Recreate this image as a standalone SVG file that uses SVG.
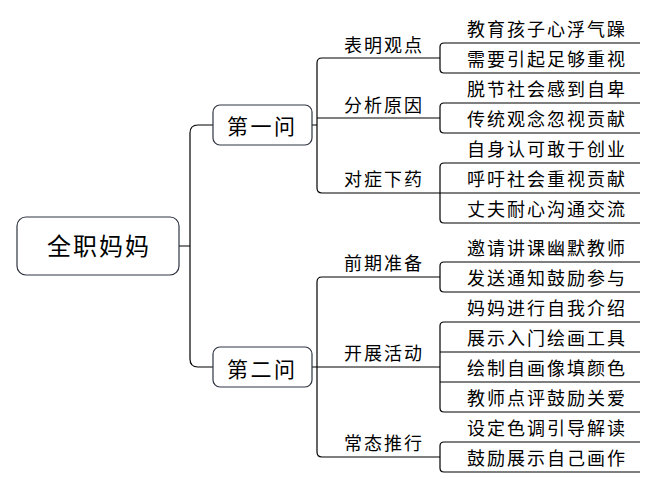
<svg xmlns="http://www.w3.org/2000/svg" width="655" height="488" viewBox="0 0 655 488">
<style>
.bx{fill:#fff;stroke:#2e3440;stroke-width:1.2}
.ln{fill:none;stroke:#000;stroke-width:1.2}
text{font-family:"Noto Sans CJK SC","Liberation Sans",sans-serif;fill:#000}
.root{font-size:24px;letter-spacing:2px}
.l1{font-size:21px;letter-spacing:2.5px}
.l2{font-size:18px;letter-spacing:2px}
.lf{font-size:18px;letter-spacing:2px}
</style>
<rect width="655" height="488" fill="#fff"/>
<g id="connectors">
<path class="ln" d="M179 246 H190 M213 125 H198 Q190 125 190 133 V359 Q190 367 198 367 H213"/>
<path class="ln" d="M312 125 H317 M440 58 H322 Q317 58 317 63 V188 Q317 193 322 193 H440 M317 118 H440"/>
<path class="ln" d="M312 367 H317 M440 277 H322 Q317 277 317 282 V452 Q317 457 322 457 H440 M317 367 H440"/>
<path class="ln" d="M640 43 H444 Q440 43 440 47 V69 Q440 73 444 73 H640"/>
<path class="ln" d="M640 103 H444 Q440 103 440 107 V129 Q440 133 444 133 H640"/>
<path class="ln" d="M640 163 H444 Q440 163 440 167 V219 Q440 223 444 223 H640 M440 193 H640"/>
<path class="ln" d="M640 262 H444 Q440 262 440 266 V288 Q440 292 444 292 H640"/>
<path class="ln" d="M640 322 H444 Q440 322 440 326 V408 Q440 412 444 412 H640 M440 352 H640 M440 382 H640"/>
<path class="ln" d="M640 442 H444 Q440 442 440 446 V468 Q440 472 444 472 H640"/>
</g>
<g id="root"><rect class="bx" x="17" y="217" width="162" height="58" rx="9"/><text class="root" x="47" y="255">全职妈妈</text></g>
<g id="q1"><rect class="bx" x="213" y="105" width="99" height="40" rx="7"/><text class="l1" x="227" y="134">第一问</text></g>
<g id="q2"><rect class="bx" x="213" y="347" width="99" height="40" rx="7"/><text class="l1" x="227" y="377">第二问</text></g>
<g id="s1"><text class="l2" x="344" y="52">表明观点</text></g>
<g id="s2"><text class="l2" x="344" y="112">分析原因</text></g>
<g id="s3"><text class="l2" x="344" y="186">对症下药</text></g>
<g id="s4"><text class="l2" x="344" y="270">前期准备</text></g>
<g id="s5"><text class="l2" x="344" y="360">开展活动</text></g>
<g id="s6"><text class="l2" x="344" y="450">常态推行</text></g>
<g id="leaf1"><text class="lf" x="467" y="36">教育孩子心浮气躁</text></g>
<g id="leaf2"><text class="lf" x="467" y="66">需要引起足够重视</text></g>
<g id="leaf3"><text class="lf" x="467" y="96">脱节社会感到自卑</text></g>
<g id="leaf4"><text class="lf" x="467" y="126">传统观念忽视贡献</text></g>
<g id="leaf5"><text class="lf" x="467" y="156">自身认可敢于创业</text></g>
<g id="leaf6"><text class="lf" x="467" y="186">呼吁社会重视贡献</text></g>
<g id="leaf7"><text class="lf" x="467" y="216">丈夫耐心沟通交流</text></g>
<g id="leaf8"><text class="lf" x="467" y="255">邀请讲课幽默教师</text></g>
<g id="leaf9"><text class="lf" x="467" y="285">发送通知鼓励参与</text></g>
<g id="leaf10"><text class="lf" x="467" y="315">妈妈进行自我介绍</text></g>
<g id="leaf11"><text class="lf" x="467" y="345">展示入门绘画工具</text></g>
<g id="leaf12"><text class="lf" x="467" y="375">绘制自画像填颜色</text></g>
<g id="leaf13"><text class="lf" x="467" y="405">教师点评鼓励关爱</text></g>
<g id="leaf14"><text class="lf" x="467" y="435">设定色调引导解读</text></g>
<g id="leaf15"><text class="lf" x="467" y="465">鼓励展示自己画作</text></g>
</svg>
